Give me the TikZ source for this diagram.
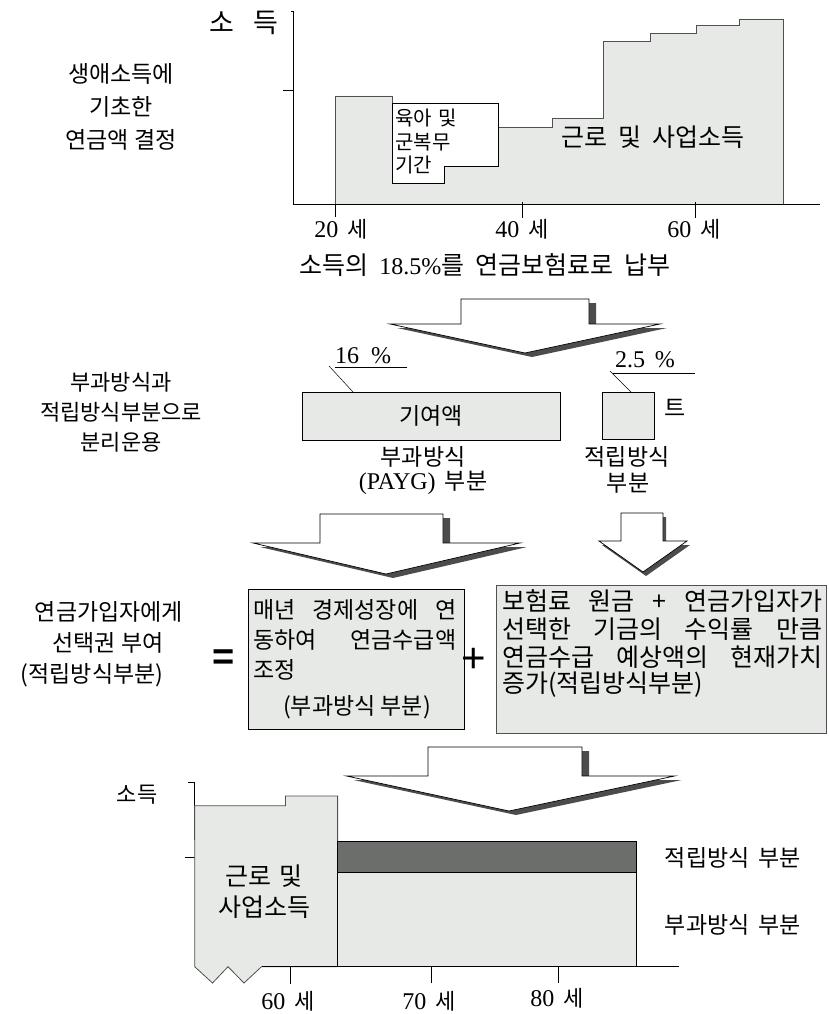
\documentclass[tikz,border=0pt]{standalone}
\usepackage{fontspec}
\setmainfont{Noto Sans CJK KR}
\newfontfamily\tn{Liberation Serif}
\newfontfamily\ts{Liberation Sans}
\definecolor{lg}{HTML}{E6E9E6}
\definecolor{dg}{HTML}{6B6E6B}
\definecolor{sh}{HTML}{4A4D4A}
\definecolor{og}{HTML}{505050}
\newcommand{\barrow}[9]{% stemL stemR top base headL headR tipx tipy shadowdx
  \fill[sh,shift={(#9,4)}] (#1,#3) -- (#2,#3) -- (#2,#4) -- (#6,#4) -- (#7,#8) -- (#5,#4) -- (#1,#4) -- cycle;
  \filldraw[fill=white,draw=black,line width=0.7pt] (#1,#3) -- (#2,#3) -- (#2,#4) -- (#6,#4) -- (#7,#8) -- (#5,#4) -- (#1,#4) -- cycle;}
\tikzset{
  lab/.style={inner sep=0pt,font=\fontsize{22}{26}\selectfont},
  labl/.style={inner sep=0pt,font=\fontsize{23}{27}\selectfont},
  big/.style={inner sep=0pt,font=\fontsize{25}{29}\selectfont},
  sm/.style={inner sep=0pt,font=\fontsize{20}{23}\selectfont},
  num/.style={inner sep=0pt,font=\fontsize{24}{28}\selectfont\tn},
  axisl/.style={line width=0.8pt,black},
  tickl/.style={line width=0.6pt,black},
}
\newcommand{\nm}[1]{{\fontsize{24}{28}\selectfont\tn #1}}
\newcommand{\wsp}{\hspace{0.45em}}
\begin{document}
\begin{tikzpicture}[x=1pt,y=-1pt]
\useasboundingbox (0,0) rectangle (828,1014);
\fill[white] (0,0) rectangle (828,1014);

% ---------- top chart ----------
\filldraw[fill=lg,draw=og,line width=0.8pt] (335.2,204) -- (335.2,96) -- (392.6,96) -- (392.6,183) -- (444.4,183) -- (444.4,166) -- (498.5,166) -- (498.5,127.3) -- (551.9,127.3) -- (551.9,118) -- (603.3,118) -- (603.3,41.7) -- (650.8,41.7) -- (650.8,33.3) -- (696.2,33.3) -- (696.2,25.7) -- (739.7,25.7) -- (739.7,19) -- (783.2,19) -- (783.2,204) -- cycle;
\filldraw[fill=white,draw=black,line width=0.7pt] (392.6,103.3) -- (498.5,103.3) -- (498.5,166) -- (444.4,166) -- (444.4,183) -- (392.6,183) -- cycle;
\draw[axisl] (291,11) -- (293.7,11) -- (293.7,204) -- (820,204);
\draw[tickl] (283,90) -- (293.7,90);
\draw[tickl] (335.2,204) -- (335.2,217);
\draw[tickl] (522.3,202) -- (522.3,218);
\draw[tickl] (695.4,202) -- (695.4,218);
\node[inner sep=0pt,font=\fontsize{27}{30}\selectfont] (so) at (244,23) {소\hspace{0.7em}득};
\node[sm,anchor=west] (yuk1) at (395,118) {육아\hspace{0.3em}및};
\node[sm,anchor=west] (yuk2) at (395,142) {군복무};
\node[sm,anchor=west] (yuk3) at (395,165) {기간};
\node[big] (work) at (653,137) {근로\wsp 및\wsp 사업소득};
\node[lab] (a20) at (341,229) {\nm{20}\hspace{0.4em}세};
\node[lab] (a40) at (522,229) {\nm{40}\hspace{0.4em}세};
\node[lab] (a60) at (694,229) {\nm{60}\hspace{0.4em}세};
\node[big] (pay) at (485,265) {소득의\wsp\nm{18.5\%}를\wsp 연금보험료로\wsp 납부};
\node[labl,align=center] (l1) at (121,107) {생애소득에\\[6pt]기초한\\[6pt]연금액 결정};

% ---------- arrow 1 ----------
\barrow{461}{589}{299}{324}{390}{660}{525}{353}{7}

% ---------- section 2 ----------
\node[lab,align=center] (l2) at (121,412) {부과방식과\\[4pt]적립방식부분으로\\[4pt]분리운용};
\node[num] (p16) at (363,356) {16\hspace{0.5em}\%};
\draw[line width=0.6pt] (335,367) -- (407,367);
\draw[line width=0.5pt] (329,366) -- (353,392);
\node[num] (p25) at (645,360) {2.5\hspace{0.4em}\%};
\draw[line width=0.6pt] (613,373) -- (695,373);
\draw[line width=0.5pt] (610,371) -- (631,392);
\node[draw=black,fill=lg,line width=0.7pt,minimum width=258pt,minimum height=48pt,inner sep=0pt,anchor=north west] (gy) at (302,392) {};
\node[labl] at (gy.center) {기여액};
\node[draw=black,fill=lg,line width=0.7pt,minimum width=52pt,minimum height=47pt,inner sep=0pt,anchor=north west] (jb) at (602,392) {};
\node[labl] (teu) at (675,408) {트};
\node[labl] (bg1) at (423,457) {부과방식};
\node[labl] (bg2) at (423,483) {\nm{(PAYG)}\hspace{0.4em}부분};
\node[labl] (jr1) at (627,457) {적립방식};
\node[labl] (jr2) at (628,483) {부분};

% ---------- arrows 2,3 ----------
\barrow{320}{443}{514}{543}{253}{520}{386}{574}{7}
\barrow{621}{663}{513}{541}{599}{687}{643}{572}{3}

% ---------- section 3 ----------
\node[labl] (l3a) at (109,612) {연금가입자에게};
\node[labl] (l3b) at (108,643) {선택권 부여};
\node[labl] (l3c) at (92,675) {(적립방식부분)};
\node[inner sep=0pt,font=\fontsize{38}{40}\selectfont\ts\bfseries] (eq) at (224,660) {=};
\node[draw=black,fill=lg,line width=1pt,minimum width=216pt,minimum height=140pt,inner sep=0pt,anchor=north west] (boxa) at (248,589) {};
\node[labl,anchor=west] (a1) at (253,610) {\makebox[203pt][s]{매년 경제성장에 연}};
\node[labl,anchor=west] (a2) at (253,640) {\makebox[203pt][s]{동하여 \ 연금수급액}};
\node[labl,anchor=west] (a3) at (253,670) {조정};
\node[labl] (a4) at (357,707) {(부과방식 부분)};
\node[inner sep=0pt,font=\fontsize{42}{44}\selectfont\ts] (plus) at (474,660) {+};
\node[draw=og,fill=lg,line width=1pt,minimum width=330pt,minimum height=148pt,inner sep=0pt,anchor=north west] (boxb) at (496,585) {};
\node[big,anchor=west] (b1) at (502,601) {\makebox[320pt][s]{보험료 원금 + 연금가입자가}};
\node[big,anchor=west] (b2) at (502,629) {\makebox[320pt][s]{선택한 기금의 수익률 만큼}};
\node[big,anchor=west] (b3) at (502,657) {\makebox[320pt][s]{연금수급 예상액의 현재가치}};
\node[big,anchor=west] (b4) at (502,685) {증가(적립방식부분)};

% ---------- arrow 4 ----------
\barrow{428}{582}{747}{776}{346.5}{674.6}{509}{811}{7}

% ---------- bottom chart ----------
\draw[axisl] (188,782) -- (194.7,782) -- (194.7,840);
\draw[tickl] (184.5,857.3) -- (194.7,857.3);
\filldraw[fill=lg,draw=og,line width=0.8pt] (194.7,805.7) -- (285.4,805.7) -- (285.4,796) -- (337.6,796) -- (337.6,966.7) -- (261.5,966.7) -- (244,983) -- (228,966.7) -- (212.5,983) -- (194.7,966.7) -- cycle;
\node[big,align=center] (wk) at (264,892) {근로\hspace{0.3em}및\\[2pt]사업소득};
\filldraw[fill=dg,draw=black,line width=0.7pt] (337.6,841) rectangle (636.7,872.3);
\filldraw[fill=lg,draw=black,line width=0.7pt] (337.6,872.3) rectangle (636.7,966.7);
\draw[axisl] (261.5,966.7) -- (679,966.7);
\draw[tickl] (289.8,966.7) -- (289.8,984);
\draw[tickl] (431.3,966.7) -- (431.3,983);
\draw[tickl] (558.6,966.7) -- (558.6,983);
\node[lab] (sd) at (137,795) {소득};
\node[lab,anchor=base] (b60) at (288,1009) {\nm{60}\hspace{0.4em}세};
\node[lab,anchor=base] (b70) at (429,1009) {\nm{70}\hspace{0.4em}세};
\node[lab,anchor=base] (b80) at (557,1006) {\nm{80}\hspace{0.4em}세};
\node[labl] (jl) at (733,858) {적립방식\hspace{0.4em}부분};
\node[labl] (bl) at (733,925) {부과방식\hspace{0.4em}부분};
\end{tikzpicture}
\end{document}
